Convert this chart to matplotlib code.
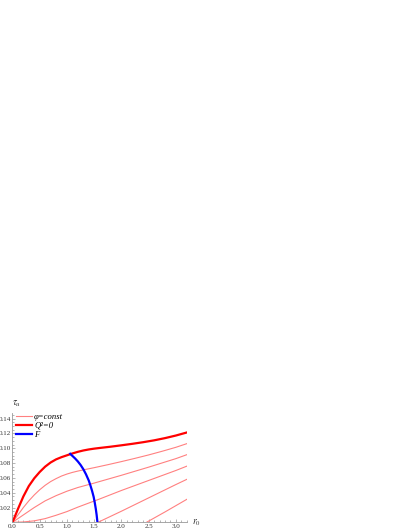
import numpy as np
import matplotlib
matplotlib.use("Agg")
import matplotlib.pyplot as plt
from matplotlib.ticker import MultipleLocator, FixedLocator

plt.rcParams['font.family'] = ['Liberation Serif', 'DejaVu Serif']
plt.rcParams['mathtext.fontset'] = 'stix'

# phi = const family (thin lines)
phi1_x = [0, 0.1, 0.2, 0.3, 0.4, 0.5, 0.6, 0.7, 0.8, 0.9, 1.0, 1.1, 1.2, 1.3, 1.4,
          1.5, 1.75, 2.0, 2.25, 2.5, 2.75, 3.0, 3.2]
phi1_y = [0, 0.010, 0.020, 0.029, 0.037, 0.044, 0.050, 0.055, 0.059, 0.0625, 0.0652,
          0.0674, 0.0692, 0.0708, 0.0723, 0.0738, 0.0778, 0.0820, 0.0864, 0.0910,
          0.0960, 0.1013, 0.1062]
phi2_x = [0, 0.2, 0.4, 0.6, 0.8, 1.0, 1.2, 1.5, 2.0, 2.5, 3.0, 3.2]
phi2_y = [0, 0.010, 0.020, 0.029, 0.036, 0.042, 0.047, 0.053, 0.0635, 0.0745, 0.0860, 0.0913]
phi3_x = [0, 0.2, 0.4, 0.6, 0.8, 1.0, 1.2, 1.4, 1.6, 2.0, 2.5, 3.0, 3.2]
phi3_y = [0, 0.0005, 0.002, 0.005, 0.0095, 0.0145, 0.0205, 0.026, 0.0315, 0.043, 0.0565,
          0.070, 0.0758]
phi4_x = [1.57, 2.0, 2.5, 3.0, 3.2]
phi4_y = [0, 0.015, 0.033, 0.051, 0.058]
phi5_x = [2.46, 2.8, 3.2]
phi5_y = [0, 0.014, 0.031]

# Q^2 = 0
q_x = [0, 0.1, 0.2, 0.3, 0.4, 0.5, 0.6, 0.7, 0.8, 0.9, 1.0, 1.1, 1.2, 1.3, 1.4,
       1.5, 1.6, 1.8, 2.0, 2.2, 2.4, 2.6, 2.8, 3.0, 3.2]
q_y = [0, 0.018, 0.035, 0.049, 0.0595, 0.068, 0.0752, 0.0808, 0.0850, 0.0880, 0.0905,
       0.0930, 0.0952, 0.0970, 0.0984, 0.0995, 0.1004, 0.1021, 0.1040, 0.1060, 0.1082,
       0.1107, 0.1137, 0.1172, 0.1213]

# F curve
f_x = [1.06, 1.1, 1.15, 1.2, 1.25, 1.3, 1.35, 1.4, 1.43, 1.46, 1.49, 1.51, 1.53,
       1.545, 1.56]
f_y = [0.0925, 0.0897, 0.0862, 0.0822, 0.0775, 0.0718, 0.0648, 0.0565, 0.050, 0.0428,
       0.0345, 0.0268, 0.018, 0.010, 0.0]

fig = plt.figure(figsize=(4.11, 5.32), dpi=100)
ax = fig.add_axes([0.0304, 0.0182, 0.424, 0.206])

thin = dict(color='#ff8080', lw=0.8)
ax.plot(phi1_x, phi1_y, label='\u03c6=const', **thin)
for xs, ys in [(phi2_x, phi2_y), (phi3_x, phi3_y), (phi4_x, phi4_y), (phi5_x, phi5_y)]:
    ax.plot(xs, ys, **thin)
ax.plot(q_x, q_y, color='#ff0000', lw=1.6, label='Q\u00b2=0')
ax.plot(f_x, f_y, color='#0000ff', lw=1.6, label='F')

ax.set_xlim(0, 3.2)
ax.set_ylim(0, 0.148)
for s in ['top', 'right']:
    ax.spines[s].set_visible(False)
for s in ['left', 'bottom']:
    ax.spines[s].set_color('#999999')
    ax.spines[s].set_linewidth(0.6)

ax.xaxis.set_major_locator(MultipleLocator(0.5))
ax.xaxis.set_minor_locator(MultipleLocator(0.1))
yt = [0.02, 0.04, 0.06, 0.08, 0.10, 0.12, 0.14]
ax.yaxis.set_major_locator(FixedLocator(yt))
ax.yaxis.set_minor_locator(MultipleLocator(0.005))
ax.set_xticklabels(['%.1f' % v for v in ax.get_xticks()])
ax.set_yticklabels(['%.2f' % v for v in yt])
ax.tick_params(which='both', direction='in', color='#999999', width=0.5,
               labelsize=5, labelcolor='#333333', pad=1)
ax.tick_params(which='major', length=2.5)
ax.tick_params(which='minor', length=1.3)

ax.text(0.0, 1.03, r'$\tau_u$', transform=ax.transAxes, fontsize=7,
        color='#333333', ha='left', va='bottom')
ax.text(1.03, 0.0, r'$r_0$', transform=ax.transAxes, fontsize=7,
        color='#333333', ha='left', va='center')

ax.legend(loc='upper left', bbox_to_anchor=(0.02, 1.0), frameon=False,
          prop={'family': 'Liberation Serif', 'style': 'italic', 'size': 6.2},
          handlelength=1.9, handletextpad=0.2, labelspacing=0.12,
          borderpad=0, borderaxespad=0)

fig.savefig('out.png', dpi=100)
